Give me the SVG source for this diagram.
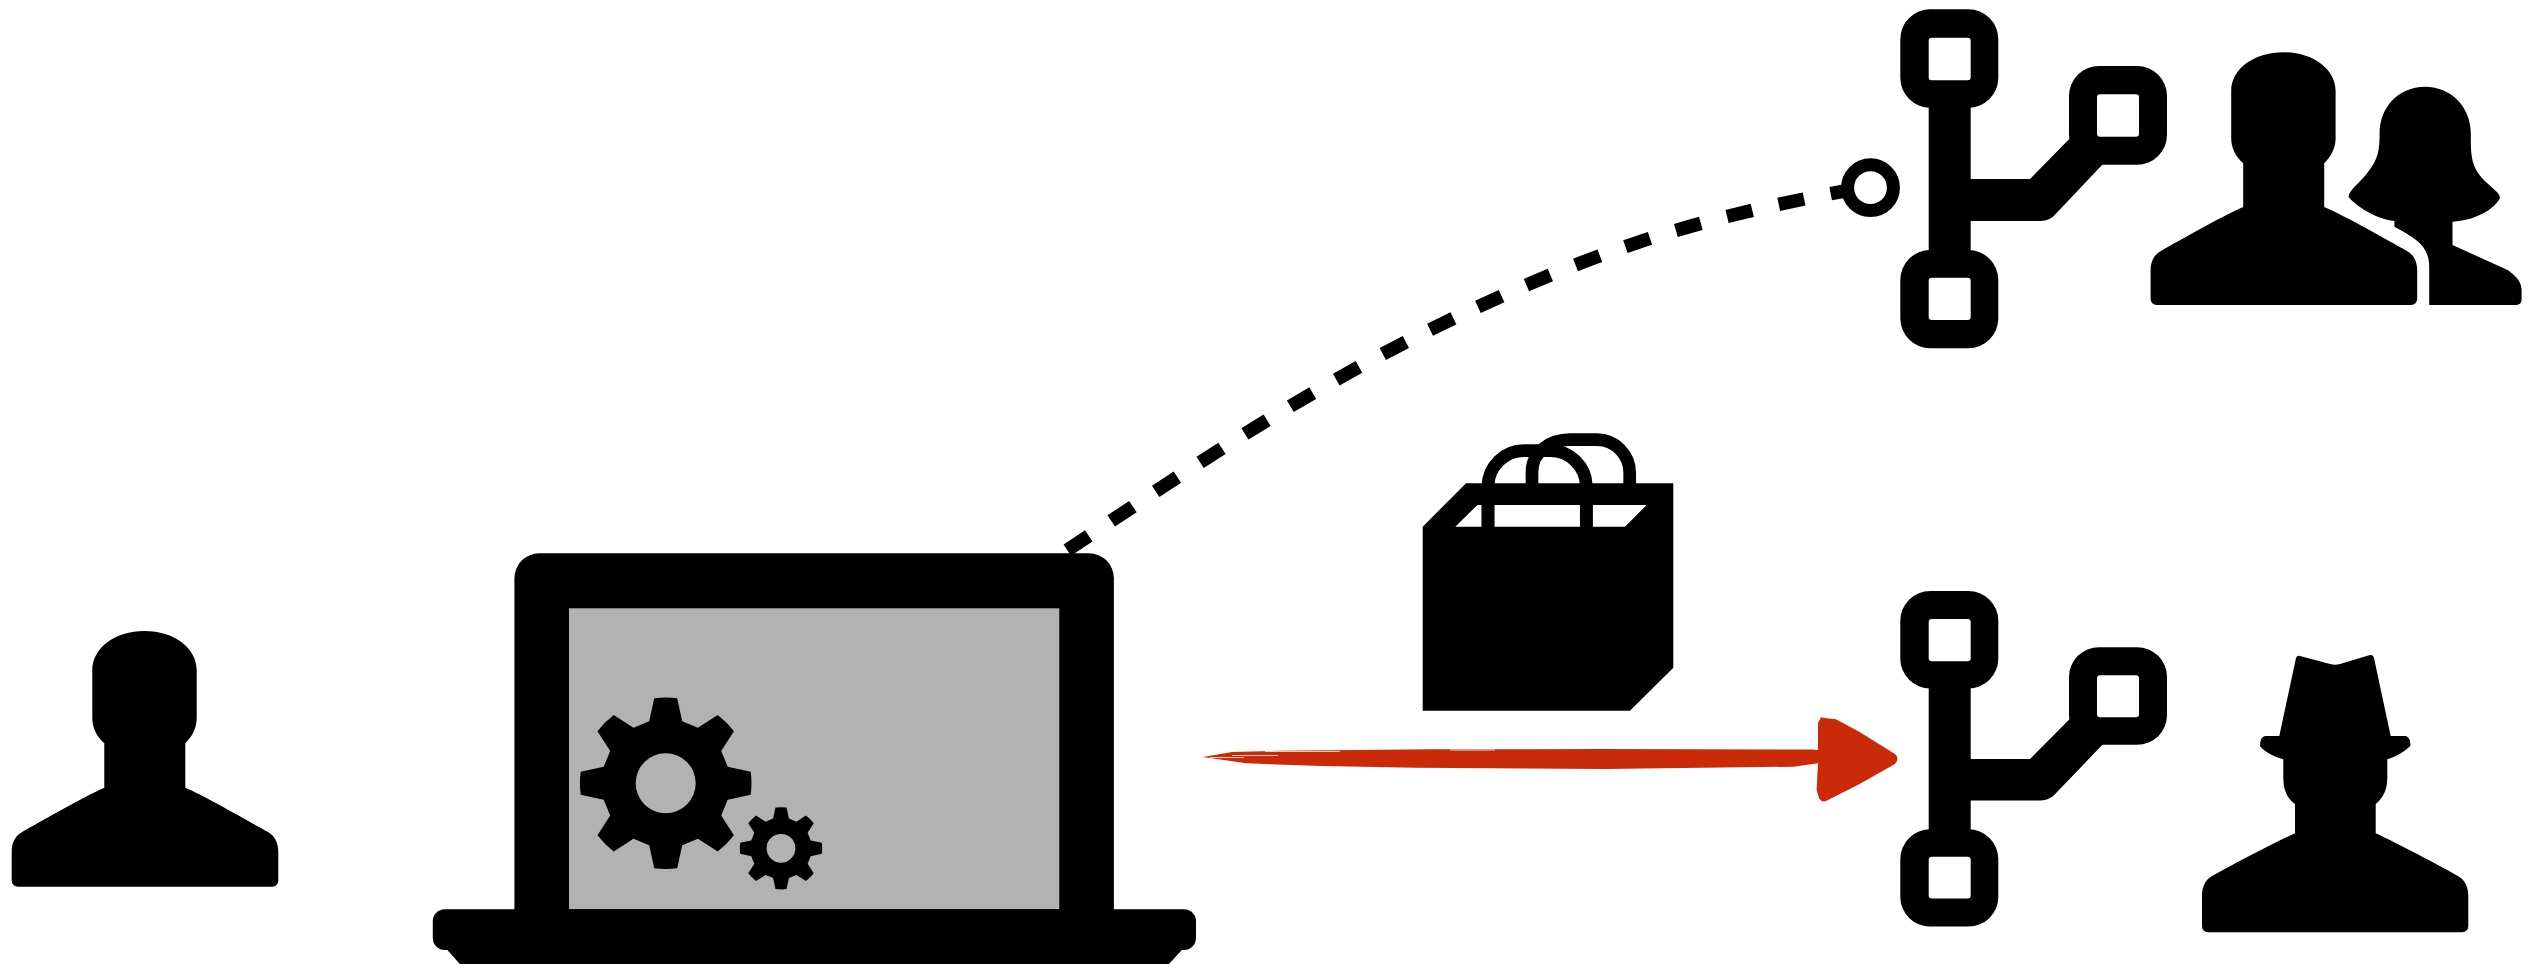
<svg xmlns="http://www.w3.org/2000/svg" width="2545" height="970" viewBox="0 0 2545 970">
<style>
.k{fill:#000}
.w{fill:#fff}
.screen{fill:#b2b2b2}
.dash{fill:none;stroke:#000;stroke-width:13.5;stroke-dasharray:26 27.1}
.ring{fill:#fff;stroke:#000;stroke-width:13}
.handle{fill:none;stroke:#000;stroke-width:12.7}
.red{fill:#c92a07}
.streak{fill:none;stroke:#fff;stroke-width:1;opacity:.75}
</style>
<defs>
<path id="person" class="k" d="M104.3,787.7V743.3C97,737 92.3,728 92.3,718V670C92.3,648 115,631 144.5,631C174,631 196.7,648 196.7,670V718C196.7,728 192,737 185.3,743.3V787.7C205,796 250,822 268,832C275,836 278.3,843 278.3,852V880.7A6,6 0 0 1 272.3,886.7H17.7A6,6 0 0 1 11.7,880.7V852C11.7,843 15,836 22,832C40,822 85,796 104.3,787.7Z"/>
<g id="tree">
<rect class="k" x="1900.3" y="9.3" width="98" height="98.4" rx="30"/>
<rect class="k" x="1900.3" y="250" width="98" height="98.3" rx="30"/>
<rect class="k" x="2069" y="66" width="98" height="98.7" rx="30"/>
<rect class="k" x="1928.7" y="90" width="42" height="180"/>
<path class="k" d="M1960,179H2030L2069,139.3L2085,110L2120,150L2102.3,164.7L2053,216.7Q2047,221 2040,221H1960Z"/>
<rect class="w" x="1928.7" y="37.7" width="42" height="42.6" rx="3"/>
<rect class="w" x="1928.7" y="277.7" width="42" height="42.3" rx="3"/>
<rect class="w" x="2097" y="94.3" width="42" height="42.4" rx="3"/>
</g>
<path id="gear" class="k" fill-rule="evenodd" d="M-16.5,-62L-11.5,-85A86,86 0 0 1 11.5,-85L16.5,-62L32.2,-55.5L52,-68.2A86,86 0 0 1 68.2,-52L55.5,-32.2L62,-16.5L85,-11.5A86,86 0 0 1 85,11.5L62,16.5L55.5,32.2L68.2,52A86,86 0 0 1 52,68.2L32.2,55.5L16.5,62L11.5,85A86,86 0 0 1 -11.5,85L-16.5,62L-32.2,55.5L-52,68.2A86,86 0 0 1 -68.2,52L-55.5,32.2L-62,16.5L-85,11.5A86,86 0 0 1 -85,-11.5L-62,-16.5L-55.5,-32.2L-68.2,-52A86,86 0 0 1 -52,-68.2L-32.2,-55.5ZM30,0A30,30 0 1 0 -30,0A30,30 0 1 0 30,0Z"/>
</defs>
<rect x="0" y="0" width="2545" height="970" fill="#fff"/>
<g id="connectors">
<path class="dash" d="M1067.3,550.2C1128,510 1189.4,468.1 1254.9,427.7C1315.5,390.4 1377.7,355.1 1441.8,324C1505.6,293 1570.9,264.7 1638.2,242.3C1703.4,220.6 1770.5,204.9 1845,191"/>
<circle class="ring" cx="1870.5" cy="187.7" r="22.9"/>
<path class="red" d="M1203,757L1232,752L1279,750.7L1432,749.3L1600,749L1812,749.6L1818,750V723L1821,717.3L1826.5,718.3L1836,719.3L1859.6,732L1895,754Q1900,758 1895,764L1859.6,784L1826.5,800.7Q1821.8,803 1819,798.3L1816.6,790L1818,763.3L1793.5,766.7L1604.7,769L1416,767.7L1321.6,766L1246,763.3Z"/>
<path class="streak" d="M1232,755.5H1278M1210,757.5H1244M1265,751.5H1340M1450,750H1495"/>
</g>
<g id="person-left"><use href="#person"/></g>
<g id="laptop">
<path class="k" d="M514.4,920V578.3A25,25 0 0 1 539.4,553.3H1088.9A25,25 0 0 1 1113.9,578.3V920Z"/>
<rect class="screen" x="569" y="608.3" width="490.3" height="301"/>
<path class="k" d="M446.5,949L459.8,964H1169L1182.8,949Z"/>
<rect class="k" x="432.8" y="909.3" width="763.2" height="40.7" rx="12"/>
<use href="#gear" transform="translate(665.7 783.3)"/>
<use href="#gear" transform="translate(781 848.3) scale(.48)"/>
</g>
<g id="bag">
<path class="handle" d="M1532,490V472C1532,452 1550,439.7 1570,439.7H1597A33,33 0 0 1 1629.7,473V490"/>
<path class="handle" d="M1488,530V486A36,36 0 0 1 1524,450.7H1550A36,36 0 0 1 1586.3,486V530"/>
<path class="k" fill-rule="evenodd" d="M1422.7,526.7L1466,483.3H1673.3V667.7L1630,710.7H1422.7ZM1477.3,505H1481.7V526.7H1455.3ZM1494.3,505H1580V526.7H1494.3ZM1592.7,505H1646.7L1625,526.7H1592.7Z"/>
</g>
<g id="tree-top"><use href="#tree"/></g>
<g id="tree-bottom"><use href="#tree" transform="translate(0 591) scale(1 .99) translate(0 -9.3)"/></g>
<g id="person-female">
<path class="k" d="M2425,86.7C2452,86.7 2470.8,108 2470.8,133C2470.8,155 2471,165 2482,178C2490,187 2500,192 2500,198C2495,208 2478,220 2452.5,221.7V245L2507.6,270C2513,274 2521.6,280 2521.6,290V300A5,5 0 0 1 2516.6,305H2429.2V267C2429.2,245 2415,238 2394.4,226.7V221C2375,219 2355,205 2348.6,197C2348.6,190 2360,183 2368,172C2378,160 2379.6,150 2379.6,133C2379.6,108 2398,86.7 2425,86.7Z"/>
</g>
<g id="person-top"><use href="#person" transform="translate(2138.9 52.3) scale(1 .988) translate(0 -631)"/></g>
<g id="person-hat">
<path class="k" d="M2295,833.3V804C2287,798 2283.3,790 2283.3,778V759.3C2272,756 2262,750 2260,746Q2260,737 2265,736H2279.3L2296,658Q2297,655 2300,656L2330,664Q2335,665.5 2340,664L2370,655Q2373,654.5 2374,658L2390.7,736H2406Q2411,738 2410.3,746C2405,751 2398,756 2387.3,759.3V778C2387.3,790 2383,798 2375.7,804V833.3C2395,842 2440,866 2458,876C2465,880 2468.3,887 2468.3,896V926.3A6,6 0 0 1 2462.3,932.3H2208A6,6 0 0 1 2202,926.3V896C2202,887 2205,880 2212,876C2230,866 2275,842 2295,833.3Z"/>
</g>
</svg>
